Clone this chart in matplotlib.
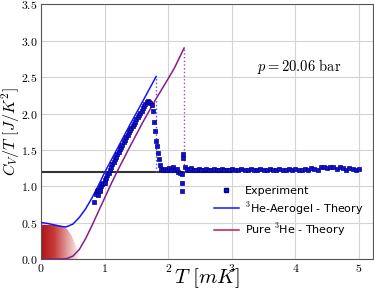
import matplotlib
matplotlib.use('Agg')
import matplotlib.pyplot as plt
import numpy as np
from matplotlib.colors import LinearSegmentedColormap
from matplotlib.patches import Polygon
from matplotlib.lines import Line2D
from matplotlib.legend_handler import HandlerLine2D

plt.rcParams['mathtext.fontset'] = 'cm'
plt.rcParams['font.family'] = 'serif'
plt.rcParams['font.serif'] = ['cmr10', 'DejaVu Serif']
plt.rcParams['axes.formatter.use_mathtext'] = True

# ---------------- data ----------------
# 3He-Aerogel theory (blue)
aero_T = [0.0, 0.1, 0.2, 0.3, 0.39, 0.5, 0.6, 0.7, 0.8, 0.9, 1.0, 1.2, 1.4, 1.6, 1.81]
aero_C = [0.50, 0.49, 0.47, 0.45, 0.44, 0.48, 0.57, 0.69, 0.84, 1.01, 1.19, 1.52, 1.85, 2.17, 2.51]

# pure 3He theory (purple)
pure_T = [0.0, 0.3, 0.4, 0.5, 0.6, 0.7, 0.8, 0.9, 1.0, 1.1, 1.2, 1.4, 1.6, 1.8, 2.0, 2.1, 2.25]
pure_C = [0.0, 0.0, 0.005, 0.04, 0.13, 0.28, 0.46, 0.65, 0.84, 1.03, 1.21, 1.55, 1.88, 2.19, 2.48, 2.63, 2.90]

# transition jumps (dotted)
aero_Tc, aero_jump = 1.81, (1.20, 2.51)
pure_Tc, pure_jump = 2.25, (1.20, 2.90)

# normal-state level
normal_C = 1.19
normal_Tmax = 3.0

# experiment
exp_T = [0.83, 0.86, 0.88, 0.89, 0.90, 0.92, 0.93, 0.94, 0.96, 0.98, 1.00, 1.01, 1.02, 1.04,
         1.06, 1.08, 1.10, 1.12, 1.14, 1.16, 1.18, 1.20, 1.22, 1.24, 1.26, 1.28, 1.30, 1.32,
         1.34, 1.36, 1.38, 1.40, 1.42, 1.44, 1.46, 1.48, 1.50, 1.52, 1.54, 1.56, 1.58, 1.60,
         1.62, 1.64, 1.66, 1.68, 1.70, 1.72, 1.74, 1.76, 1.78, 1.79, 1.81, 1.82, 1.84, 1.85,
         1.87, 1.89,
         1.92, 1.95, 1.98, 2.01, 2.04, 2.07, 2.10, 2.13, 2.16, 2.19, 2.21, 2.21, 2.22, 2.23,
         2.24, 2.26, 2.29, 2.32, 2.36, 2.40, 2.44, 2.48, 2.52, 2.56, 2.60, 2.64, 2.68, 2.72,
         2.76, 2.80, 2.84, 2.88, 2.92, 2.96, 3.00, 3.05, 3.10, 3.15, 3.20, 3.25, 3.30, 3.35,
         3.40, 3.45, 3.50, 3.55, 3.60, 3.65, 3.70, 3.75, 3.80, 3.85, 3.90, 3.95, 4.00, 4.05,
         4.10, 4.15, 4.20, 4.25, 4.30, 4.35, 4.40, 4.45, 4.50, 4.55, 4.60, 4.65, 4.70, 4.75,
         4.80, 4.85, 4.90, 4.95, 5.00]
exp_C = [0.79, 0.90, 0.93, 0.88, 0.95, 0.97, 0.94, 1.00, 1.03, 1.05, 1.08, 1.04, 1.12, 1.15,
         1.18, 1.22, 1.26, 1.30, 1.33, 1.37, 1.40, 1.44, 1.47, 1.51, 1.54, 1.57, 1.61, 1.64,
         1.68, 1.71, 1.74, 1.77, 1.80, 1.83, 1.86, 1.89, 1.92, 1.95, 1.98, 2.01, 2.04, 2.07,
         2.10, 2.13, 2.16, 2.17, 2.16, 2.15, 2.12, 2.03, 1.88, 1.76, 1.62, 1.55, 1.46, 1.38,
         1.29, 1.24,
         1.22, 1.24, 1.22, 1.25, 1.23, 1.26, 1.22, 1.24, 1.20, 1.18, 0.93, 1.04, 1.17, 1.39,
         1.45, 1.26, 1.24, 1.22, 1.25, 1.23, 1.22, 1.24, 1.23, 1.22, 1.24, 1.23, 1.22, 1.24,
         1.23, 1.22, 1.24, 1.23, 1.22, 1.23, 1.24, 1.22, 1.23, 1.24, 1.22, 1.23, 1.24, 1.22,
         1.23, 1.24, 1.22, 1.23, 1.24, 1.23, 1.22, 1.24, 1.23, 1.22, 1.24, 1.23, 1.24, 1.22,
         1.23, 1.24, 1.23, 1.25, 1.24, 1.23, 1.26, 1.27, 1.25, 1.27, 1.26, 1.24, 1.26, 1.25,
         1.23, 1.25, 1.24, 1.23, 1.24]

# shaded low-temperature region outline
shade_T = [0.0, 0.0, 0.25, 0.35, 0.42, 0.48, 0.53, 0.57, 0.60, 0.62]
shade_C = [0.0, 0.47, 0.47, 0.45, 0.40, 0.32, 0.22, 0.12, 0.04, 0.0]

# ---------------- plotting ----------------
fig = plt.figure(figsize=(3.74, 2.92), dpi=100)
ax = fig.add_axes([0.11, 0.113, 0.887, 0.872])

# gradient fill
cmap = LinearSegmentedColormap.from_list('redfade', ['#b01418', '#c63a3a', '#e4a0a0', '#ffffff'])
grad = np.linspace(0, 1, 256).reshape(1, -1)
im = ax.imshow(grad, extent=[0, max(shade_T), 0, max(shade_C)], cmap=cmap,
               aspect='auto', origin='lower', zorder=1)
clip = Polygon(np.column_stack([shade_T, shade_C]), closed=True,
               transform=ax.transData, facecolor='none', edgecolor='none')
ax.add_patch(clip)
im.set_clip_path(clip)

ax.plot([0, normal_Tmax], [normal_C, normal_C], color='#333333', lw=1.5, zorder=2)

aero_col = '#1414ff'
pure_col = '#8b1a8b'
ax.plot(aero_T, aero_C, color=aero_col, lw=1.1, zorder=3)
ax.plot(pure_T, pure_C, color=pure_col, lw=1.1, zorder=3)
ax.plot([aero_Tc, aero_Tc], aero_jump, color='#5050ff', lw=1.0, ls=':', zorder=3)
ax.plot([pure_Tc, pure_Tc], pure_jump, color='#b040c0', lw=1.0, ls=':', zorder=3)

ax.plot(exp_T, exp_C, ls='none', marker='s', ms=3.0, color='#1010d0',
        mec='#00008b', mew=0.5, zorder=4)

ax.text(3.39, 2.65, r'$p = 20.06\ \mathrm{bar}$', fontsize=10.5, ha='left', va='center')

ax.set_xlim(0, 5.22)
ax.set_ylim(0, 3.5)
ax.set_xticks([0, 1, 2, 3, 4, 5])
ax.set_yticks(np.arange(0, 3.51, 0.5))
ax.tick_params(length=0, labelsize=8.5, pad=2.5)
ax.grid(True, color='#d4d4d4', lw=0.8)
ax.set_axisbelow(True)
for s in ax.spines.values():
    s.set_color('#555555')
    s.set_linewidth(0.8)

ax.set_xlabel(r'$T\ [mK]$', fontsize=15, labelpad=-6)
ax.set_ylabel(r'$C_V/T\ [J/K^2]$', fontsize=11.5, labelpad=-0.5)


class RightMarker(HandlerLine2D):
    def get_xdata(self, legend, xdescent, ydescent, width, height, fontsize):
        xdata, _ = super().get_xdata(legend, xdescent, ydescent, width, height, fontsize)
        return xdata, [-xdescent + width * 0.9]


h_exp = Line2D([], [], ls='none', marker='s', ms=3.5, color='#1010d0', mec='#00008b')
h_aero = Line2D([], [], color=aero_col, lw=1.1)
h_pure = Line2D([], [], color='#c0185f', lw=1.1)
leg = ax.legend([h_exp, h_aero, h_pure],
                ['Experiment', '$^3$He-Aerogel - Theory', 'Pure $^3$He - Theory'],
                loc='upper left', bbox_to_anchor=(0.505, 0.31), frameon=False,
                prop={'family': 'DejaVu Sans', 'size': 8}, borderpad=0,
                handlelength=2.2, handletextpad=0.6, labelspacing=0.4, numpoints=1,
                handler_map={h_exp: RightMarker()})

fig.savefig('out.png', dpi=100)
